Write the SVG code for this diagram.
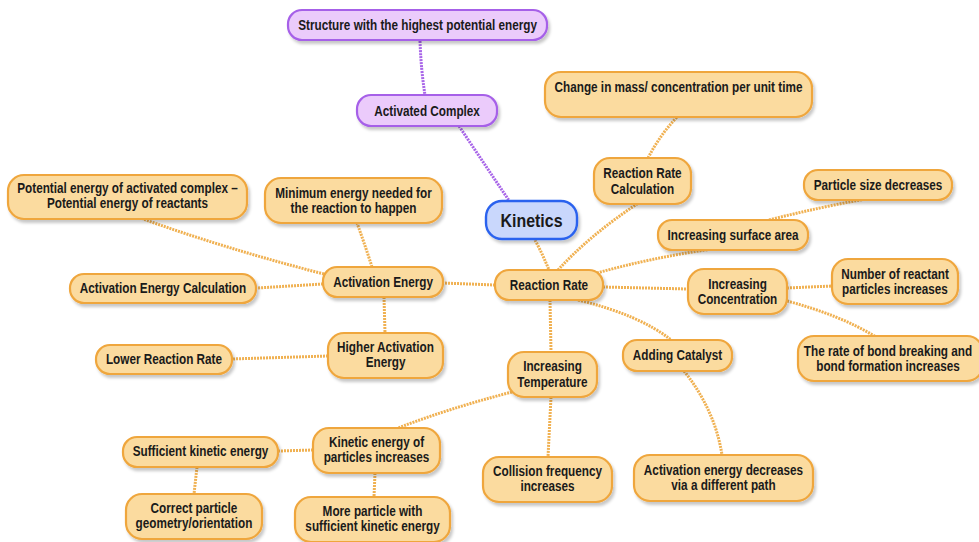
<svg xmlns="http://www.w3.org/2000/svg" width="979" height="542" viewBox="0 0 979 542">
<defs>
<filter id="sh" x="-10%" y="-20%" width="130%" height="160%">
<feDropShadow dx="2" dy="3" stdDeviation="1.6" flood-color="#000" flood-opacity="0.22"/>
</filter>
<style>
.n rect{fill:#fbdb9f;stroke:#efa63c;stroke-width:2.2;filter:url(#sh)}
.p rect{fill:#ebcbfb;stroke:#a660e8;stroke-width:2.2;filter:url(#sh)}
.b rect{fill:#c9d7fc;stroke:#2b62ee;stroke-width:2.4;filter:url(#sh)}
text{font-family:"Liberation Sans",Arial,sans-serif;font-weight:bold;font-size:14px;fill:#1a1a1a;text-anchor:middle;transform-box:fill-box;transform-origin:center;transform:scaleX(0.84)}
.c path{fill:none;stroke:#f0b152;stroke-width:3;stroke-dasharray:2 1}
.c path.pl{stroke:#a865e8}
</style>
</defs>
<rect width="979" height="542" fill="#fff"/>
<g id="connectors" class="c">
<path class="pl" d="M420,41 Q421,70 425,95"/>
<path class="pl" d="M459,126 Q485,165 510,202"/>
<path d="M535,240 Q543,255 549,270"/>
<path d="M558,270 Q590,235 637,204"/>
<path d="M648,158 Q660,135 677,117"/>
<path d="M597,273 Q650,258 712,249"/>
<path d="M769,220 Q820,207 866,199"/>
<path d="M603,287 L688,289"/>
<path d="M787,288 L832,286"/>
<path d="M787,301 Q840,315 876,337"/>
<path d="M578,300 Q640,315 671,340"/>
<path d="M684,371 Q715,410 722,455"/>
<path d="M550,300 L551,352"/>
<path d="M551,397 L548,457"/>
<path d="M512,392 Q450,408 398,428"/>
<path d="M313,450 L279,451"/>
<path d="M197,467 L194,494"/>
<path d="M375,473 L374,497"/>
<path d="M495,285 L443,283"/>
<path d="M372,267 Q365,245 357,223"/>
<path d="M324,274 Q230,250 143,219"/>
<path d="M323,284 L257,288"/>
<path d="M384,297 L385,333"/>
<path d="M328,356 L232,359"/>
</g>
<g id="structure" class="p"><rect x="288" y="10" width="259" height="30" rx="14"/><text x="417.5" y="30">Structure with the highest potential energy</text></g>
<g id="activated-complex" class="p"><rect x="357" y="95" width="140" height="31" rx="14"/><text x="427" y="116">Activated Complex</text></g>
<g id="kinetics" class="b"><rect x="486" y="201" width="91" height="38" rx="16"/><text x="531.5" y="227" style="font-size:19px">Kinetics</text></g>
<g id="change-in-mass" class="n"><rect x="545" y="72" width="267" height="45" rx="16"/><text x="678.5" y="92">Change in mass/ concentration per unit time</text></g>
<g id="reaction-rate-calc" class="n"><rect x="594" y="158" width="97" height="46" rx="16"/><text x="642.5" y="178">Reaction Rate</text><text x="642.5" y="194">Calculation</text></g>
<g id="particle-size" class="n"><rect x="804" y="170" width="148" height="30" rx="14"/><text x="878" y="190">Particle size decreases</text></g>
<g id="surface-area" class="n"><rect x="658" y="220" width="150" height="30" rx="14"/><text x="733" y="240">Increasing surface area</text></g>
<g id="concentration" class="n"><rect x="688" y="269" width="99" height="45" rx="16"/><text x="737.5" y="289">Increasing</text><text x="737.5" y="304">Concentration</text></g>
<g id="number-reactant" class="n"><rect x="832" y="259" width="126" height="45" rx="16"/><text x="895" y="279">Number of reactant</text><text x="895" y="294">particles increases</text></g>
<g id="bond-rate" class="n"><rect x="798" y="336" width="185" height="45" rx="16"/><text x="888" y="356">The rate of bond breaking and</text><text x="888" y="371">bond formation increases</text></g>
<g id="reaction-rate" class="n"><rect x="495" y="270" width="108" height="30" rx="14"/><text x="549" y="290">Reaction Rate</text></g>
<g id="activation-energy" class="n"><rect x="323" y="267" width="120" height="30" rx="14"/><text x="383" y="287">Activation Energy</text></g>
<g id="minimum-energy" class="n"><rect x="265" y="178" width="177" height="45" rx="16"/><text x="353.5" y="198">Minimum energy needed for</text><text x="353.5" y="213">the reaction to happen</text></g>
<g id="potential-energy" class="n"><rect x="8" y="175" width="239" height="44" rx="16"/><text x="127.5" y="193">Potential energy of activated complex –</text><text x="127.5" y="208">Potential energy of reactants</text></g>
<g id="ae-calculation" class="n"><rect x="70" y="274" width="186" height="29" rx="14"/><text x="163" y="293">Activation Energy Calculation</text></g>
<g id="higher-ae" class="n"><rect x="328" y="333" width="115" height="45" rx="16"/><text x="385.5" y="352">Higher Activation</text><text x="385.5" y="367">Energy</text></g>
<g id="lower-rr" class="n"><rect x="96" y="345" width="136" height="29" rx="14"/><text x="164" y="364">Lower Reaction Rate</text></g>
<g id="temperature" class="n"><rect x="508" y="352" width="89" height="45" rx="16"/><text x="552.5" y="371">Increasing</text><text x="552.5" y="387">Temperature</text></g>
<g id="catalyst" class="n"><rect x="623" y="340" width="109" height="31" rx="14"/><text x="677.5" y="360">Adding Catalyst</text></g>
<g id="collision" class="n"><rect x="483" y="457" width="129" height="45" rx="16"/><text x="547.5" y="476">Collision frequency</text><text x="547.5" y="491">increases</text></g>
<g id="ae-decreases" class="n"><rect x="634" y="455" width="179" height="46" rx="16"/><text x="723.5" y="475">Activation energy decreases</text><text x="723.5" y="490">via a different path</text></g>
<g id="kinetic-energy" class="n"><rect x="313" y="428" width="127" height="45" rx="16"/><text x="376.5" y="447">Kinetic energy of</text><text x="376.5" y="462">particles increases</text></g>
<g id="sufficient-ke" class="n"><rect x="123" y="437" width="155" height="30" rx="14"/><text x="200.5" y="456">Sufficient kinetic energy</text></g>
<g id="correct-geometry" class="n"><rect x="126" y="494" width="136" height="45" rx="16"/><text x="194" y="513">Correct particle</text><text x="194" y="528">geometry/orientation</text></g>
<g id="more-particle" class="n"><rect x="295" y="497" width="155" height="45" rx="16"/><text x="372.5" y="516">More particle with</text><text x="372.5" y="531">sufficient kinetic energy</text></g>
</svg>
